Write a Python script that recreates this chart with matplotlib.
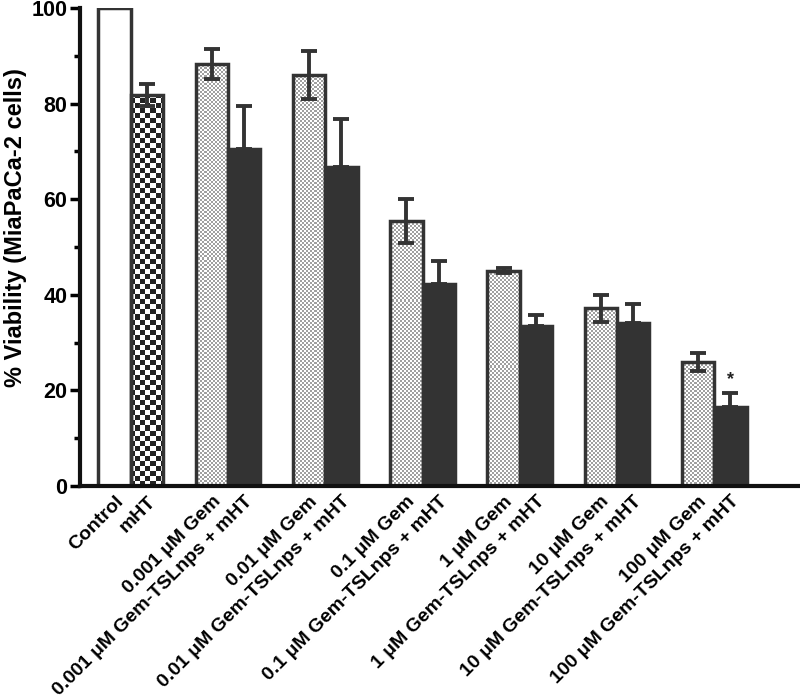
import numpy as np
import matplotlib
matplotlib.use('Agg')
import matplotlib.pyplot as plt

plt.rcParams['font.family'] = ['Liberation Sans', 'DejaVu Sans']
plt.rcParams['font.weight'] = 'bold'

# data
labels = ['Control', 'mHT',
          '0.001 μM Gem', '0.001 μM Gem-TSLnps + mHT',
          '0.01 μM Gem', '0.01 μM Gem-TSLnps + mHT',
          '0.1 μM Gem', '0.1 μM Gem-TSLnps + mHT',
          '1 μM Gem', '1 μM Gem-TSLnps + mHT',
          '10 μM Gem', '10 μM Gem-TSLnps + mHT',
          '100 μM Gem', '100 μM Gem-TSLnps + mHT']
viability = [100, 81.8, 88.3, 70.4, 85.9, 66.8, 55.5, 42.3, 45.0, 33.4, 37.2, 34.0, 25.9, 16.5]
err = [0, 2.3, 3.1, 9.1, 5.0, 10.0, 4.6, 4.8, 0.5, 2.4, 2.8, 4.0, 1.9, 3.0]
kinds = ['control', 'mht'] + ['gem', 'tsl'] * 6
star_idx = 13

EDGE = '#333333'

fig = plt.figure(figsize=(8, 7), dpi=100)
ax = fig.add_axes([0.1, 0.3057, 0.9, 0.683])

x = []
for i in range(len(labels)):
    pair = i // 2
    x.append(pair * 3 + (-0.5 if i % 2 == 0 else 0.5))
x = np.array(x)

xlim = (-1.57, 20.65)
ylim = (0, 100)
ax.set_xlim(*xlim)
ax.set_ylim(*ylim)

face = {'control': 'white', 'mht': 'white', 'gem': 'white', 'tsl': EDGE}
bars = ax.bar(x, viability, width=1.0, color=[face[k] for k in kinds],
              edgecolor='none', zorder=1)


def checker(cell_px, c1, c2):
    nx = int(720 / cell_px)
    ny = int(478 / cell_px)
    yy, xx = np.mgrid[0:ny, 0:nx]
    m = (xx + yy) % 2
    a = np.array(matplotlib.colors.to_rgb(c1))
    b = np.array(matplotlib.colors.to_rgb(c2))
    return np.where(m[..., None] == 0, a, b)


pat_gem = checker(2, '#a0a0a0', '#ffffff')
pat_mht = checker(5, '#222222', '#ffffff')

for b, k in zip(bars, kinds):
    if k == 'gem':
        pat = pat_gem
    elif k == 'mht':
        pat = pat_mht
    else:
        continue
    im = ax.imshow(pat, extent=(xlim[0], xlim[1], ylim[0], ylim[1]),
                   interpolation='nearest', aspect='auto', zorder=2)
    im.set_clip_path(b)

ax.bar(x, viability, width=1.0, fill=False, edgecolor=EDGE, linewidth=2.5, zorder=3)

for xi, v, e, k in zip(x, viability, err, kinds):
    if e == 0:
        continue
    if k == 'tsl':
        yerr = [[0], [e]]
    else:
        yerr = [[e], [e]]
    ax.errorbar(xi, v, yerr=yerr, fmt='none', ecolor=EDGE, elinewidth=2.8,
                capsize=6, capthick=2.8, zorder=4)

ax.text(x[star_idx], viability[star_idx] + err[star_idx] + 1.0, '*',
        ha='center', va='bottom', fontsize=13, color='#222222')

ax.set_xticks(x)
ax.set_xticklabels(labels, rotation=45, ha='right', rotation_mode='anchor',
                   fontsize=14, fontweight='bold')
ax.tick_params(axis='x', length=0, pad=5)

ax.set_yticks([0, 20, 40, 60, 80, 100])
ax.set_yticks([10, 30, 50, 70, 90], minor=True)
ax.tick_params(axis='y', which='major', length=7, width=2.5, labelsize=15.5, pad=2)
ax.tick_params(axis='y', which='minor', length=4, width=2.5)
for t in ax.get_yticklabels():
    t.set_fontweight('bold')

ax.set_ylabel('% Viability (MiaPaCa-2 cells)', fontsize=17, fontweight='bold')
ax.yaxis.set_label_coords(-0.074, 0.54)

for s in ['top', 'right']:
    ax.spines[s].set_visible(False)
for s in ['left', 'bottom']:
    ax.spines[s].set_linewidth(3)
    ax.spines[s].set_color('#111111')
    ax.spines[s].set_zorder(5)

plt.savefig('out.png', dpi=100)
plt.close()
